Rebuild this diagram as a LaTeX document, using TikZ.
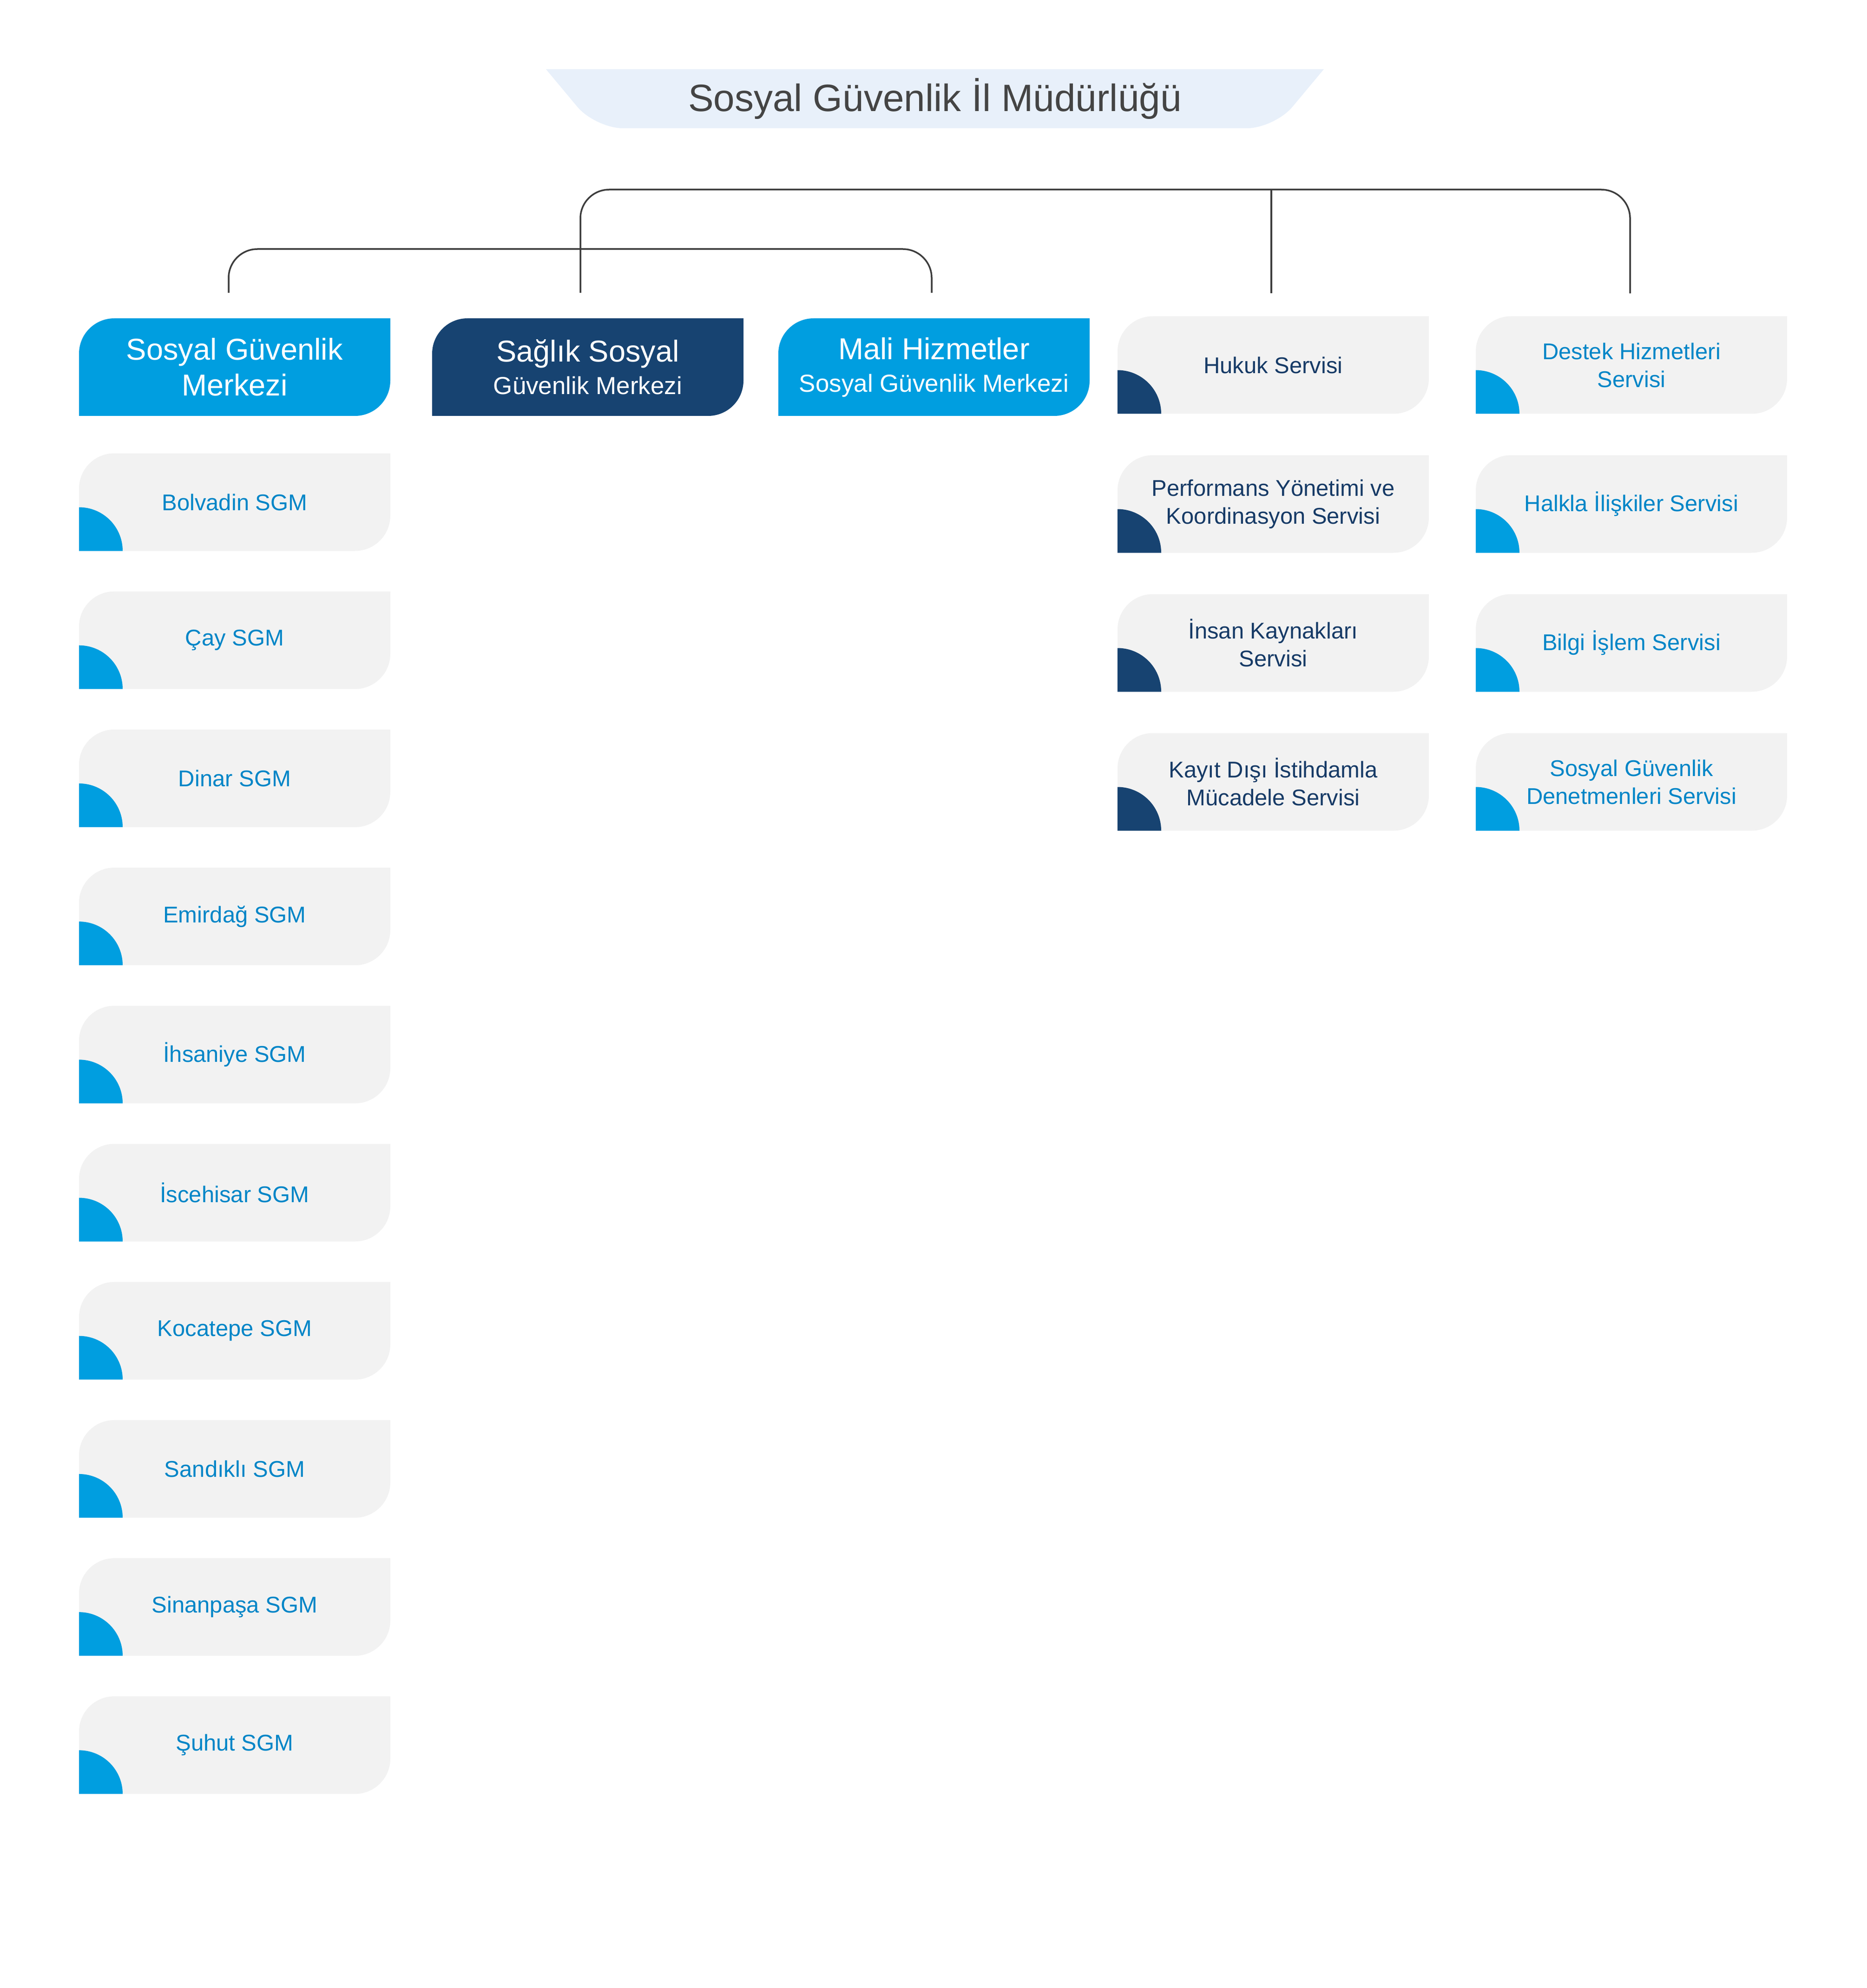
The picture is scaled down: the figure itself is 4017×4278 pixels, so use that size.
\documentclass[tikz,border=0pt]{standalone}
\usepackage{fontspec}
\setmainfont{Liberation Sans}

\definecolor{sgkblue}{RGB}{0,158,224}
\definecolor{sgknavy}{RGB}{23,67,113}
\definecolor{textblue}{RGB}{0,133,199}
\definecolor{textnavy}{RGB}{22,58,102}
\definecolor{cardgrey}{RGB}{242,242,242}
\definecolor{bandblue}{RGB}{232,240,250}
\definecolor{titlegrey}{RGB}{68,68,68}
\definecolor{linegrey}{RGB}{60,60,60}

% card body: rounded top-left and bottom-right corners
\newcommand\cardfill[1]{%
  \fill[#1, x=1pt, y=1pt] (path picture bounding box.south west)
    -- ([yshift=-19pt]path picture bounding box.north west)
    arc[start angle=180, end angle=90, radius=19]
    -- (path picture bounding box.north east)
    -- ([yshift=19pt]path picture bounding box.south east)
    arc[start angle=0, end angle=-90, radius=19] -- cycle;}
\newcommand\sublabel[1]{{\fontsize{13.25}{17.5}\selectfont #1}}

\begin{document}
\begin{tikzpicture}[
    x=0.25pt, y=-0.25pt,
    card/.style={minimum width=167.5pt, minimum height=52.5pt, inner sep=0pt, align=center, fill=white},
    headbox/.style={card, text=white, font=\fontsize{16.25}{19.25}\selectfont, path picture={\cardfill{#1}}},
    unitbox/.style 2 args={card, text=#2, font=\fontsize{12.25}{15}\selectfont,
        path picture={\cardfill{cardgrey}
            \fill[#1, x=1pt, y=1pt] (path picture bounding box.south west) -- ++(0,23.5)
                arc[start angle=90, end angle=0, radius=23.5] -- cycle;}},
    link/.style={draw=linegrey, line width=0.875pt, rounded corners=15.5pt}
]
    \useasboundingbox (0,0) rectangle (4017,4278);

    % --- Title band ---
    \fill[bandblue, rounded corners=15pt] (1175,149) -- (1281,276) -- (2743,276) -- (2849,149);
    \node[font=\fontsize{20.5}{24}\selectfont, text=titlegrey] (title) at (2012,212) {Sosyal Güvenlik İl Müdürlüğü};

    % --- Centre headers ---
    \node[headbox=sgkblue] (merkez) at (505,790) {Sosyal Güvenlik\\Merkezi};
    \node[headbox=sgknavy, font=\fontsize{16.25}{17.5}\selectfont] (saglik) at (1265,790) {Sağlık Sosyal\\\sublabel{Güvenlik Merkezi}};
    \node[headbox=sgkblue, font=\fontsize{16.25}{17.5}\selectfont] (mali) at (2010,790) {Mali Hizmetler\\\sublabel{Sosyal Güvenlik Merkezi}};

    % --- SGM list ---
    \foreach \name [count=\i from 0] in {Bolvadin SGM, Çay SGM, Dinar SGM, Emirdağ SGM, İhsaniye SGM,
        İscehisar SGM, Kocatepe SGM, Sandıklı SGM, Sinanpaşa SGM, Şuhut SGM} {
        \node[unitbox={sgkblue}{textblue}] (sgm\i) at (505, 1080.5+\i*297.2) {\name};
    }

    % --- Services ---
    \foreach \name [count=\i from 0] in {Hukuk Servisi, {Performans Yönetimi ve\\Koordinasyon Servisi},
        {İnsan Kaynakları\\Servisi}, {Kayıt Dışı İstihdamla\\Mücadele Servisi}} {
        \node[unitbox={sgknavy}{textnavy}] (srvA\i) at (2740, 785.5+\i*299) {\name};
    }
    \foreach \name [count=\i from 0] in {{Destek Hizmetleri\\Servisi}, Halkla İlişkiler Servisi,
        Bilgi İşlem Servisi, {Sosyal Güvenlik\\Denetmenleri Servisi}} {
        \node[unitbox={sgkblue}{textblue}] (srvB\i) at (3511, 785.5+\i*299) {\name};
    }

    % --- Connectors ---
    \coordinate (topbar) at (0,408);
    \coordinate (midbar) at (0,536);
    \coordinate (hukukin) at ([xshift=-1pt]srvA0.north);
    \draw[link, shorten <=13.5pt, shorten >=12.1pt] ([xshift=-4pt]saglik.north) |- (topbar -| hukukin)
        -| ([xshift=-0.75pt]srvB0.north);
    \draw[link, shorten >=12.1pt] (topbar -| hukukin) -- (hukukin);
    \draw[link, shorten <=13.5pt, shorten >=13.5pt] ([xshift=-3.25pt]merkez.north) |- (midbar -| saglik.north)
        -| ([xshift=-1.25pt]mali.north);
\end{tikzpicture}
\end{document}
